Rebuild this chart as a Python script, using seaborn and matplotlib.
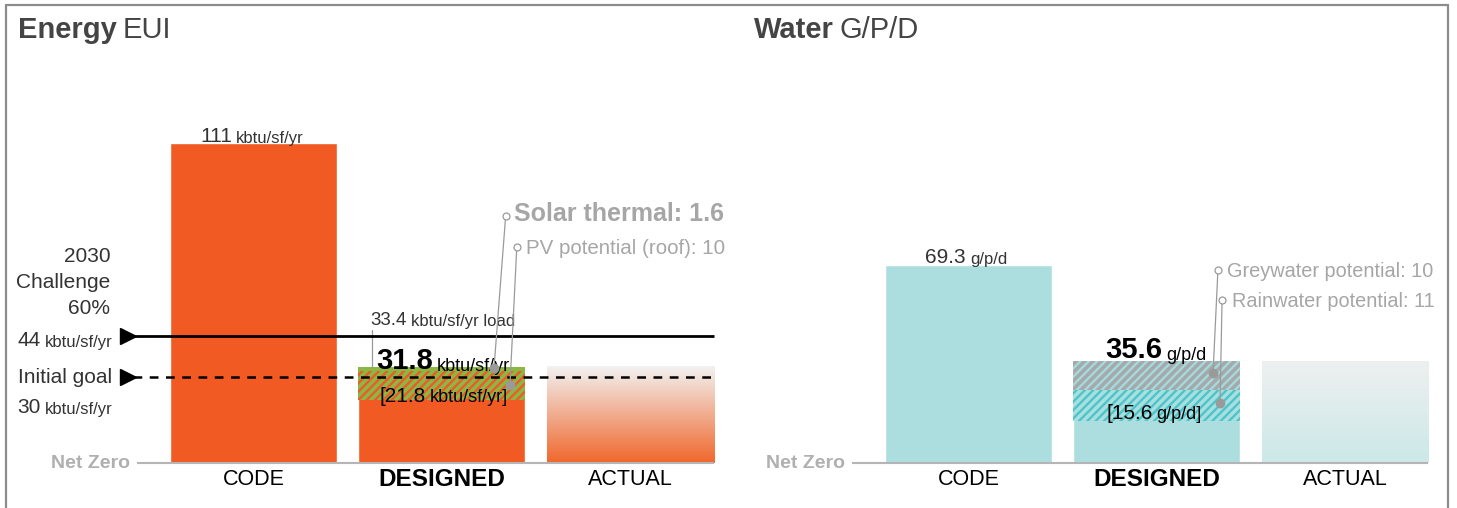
import numpy as np
import matplotlib
matplotlib.use("Agg")
import matplotlib.pyplot as plt
import seaborn as sns
from matplotlib.colors import LinearSegmentedColormap
from matplotlib.lines import Line2D

# I use a plain white style, the chart has no axes or grid
sns.set_style("white")
NARROW = ['Liberation Sans Narrow', 'Liberation Sans', 'DejaVu Sans']
WIDE = ['Liberation Sans', 'DejaVu Sans']
plt.rcParams['font.family'] = NARROW
plt.rcParams['hatch.linewidth'] = 1.7

# 1. DATA

categories = ['CODE', 'DESIGNED', 'ACTUAL']

energy_eui = [111, 33.4, 33.4]          # kbtu/sf/yr (designed = load)
energy_solar_thermal = 1.6
energy_pv = 10
energy_net = 31.8
energy_net_pv = 21.8
challenge_2030 = 44
initial_goal = 30

water_gpd = [69.3, 35.6, 35.6]          # g/p/d
water_greywater = 10
water_rainwater = 11
water_net_reuse = 15.6

# 2. COLOURS

ORANGE = '#F15A22'
GREEN = '#8BB842'
TEAL = '#ACDEDF'
GREY_TXT = '#A6A6A6'
DARK = '#333333'
LEAD = '#9A9A9A'

fig = plt.figure(figsize=(14.57, 5.08), dpi=100)
ax_e = fig.add_axes([0, 0, 720 / 1457, 1])
ax_w = fig.add_axes([728 / 1457, 0, 729 / 1457, 1])


def rich(ax, x, y, parts, zorder=6):
    # parts: (text, size, weight, color, family) drawn left to right on one line
    s, size, weight, color, fam = parts[0]
    t = ax.text(x, y, s, fontsize=size, fontweight=weight, color=color,
                family=fam, va='baseline', ha='left', zorder=zorder)
    for s, size, weight, color, fam in parts[1:]:
        t = ax.annotate(s, xy=(1, 0), xycoords=t, xytext=(3, 0),
                        textcoords='offset points', va='bottom', ha='left',
                        fontsize=size, fontweight=weight, color=color,
                        family=fam, zorder=zorder)
    return t


def gradient_bar(ax, patch, top_color, bottom_color):
    # I replace the flat bar by a vertical gradient
    x0, y0 = patch.get_x(), patch.get_y()
    w, h = patch.get_width(), patch.get_height()
    cmap = LinearSegmentedColormap.from_list('g', [bottom_color, top_color])
    grad = np.linspace(0, 1, 256).reshape(-1, 1)
    ax.imshow(grad, cmap=cmap, extent=(x0, x0 + w, y0, y0 + h),
              origin='lower', aspect='auto', zorder=2)
    patch.set_alpha(0)


def leader(ax, x_top, y_top, x_end, y_end):
    ax.plot([x_top, x_end], [y_top, y_end], color=LEAD, lw=0.9, zorder=7)
    ax.plot(x_top, y_top, marker='o', ms=5, mfc='white', mec=LEAD, mew=0.9, zorder=8)
    ax.plot(x_end, y_end, marker='o', ms=6, color=LEAD, zorder=8)


def base_panel(ax, values, palette, px_per_unit):
    sns.barplot(x=categories, y=values, hue=categories, palette=palette,
                width=0.887, legend=False, ax=ax, saturation=1, zorder=2)
    ax.set_ylim(-45 / px_per_unit, 463 / px_per_unit)
    ax.axis('off')
    ax.hlines(0, -0.619, 2.4435, color='#B5B5B5', lw=1.5, zorder=3)
    ax.text(-0.655, 0, 'Net Zero', family=WIDE, fontweight='bold', fontsize=14,
            color='#B0B0B0', ha='right', va='center')
    for i, c in enumerate(categories):
        bold = c == 'DESIGNED'
        ax.text(i, -15 / px_per_unit * 1.1, c, ha='center', va='center',
                fontsize=17.5 if bold else 15.5,
                fontweight='bold' if bold else 'normal', color='black')


# 3. ENERGY PANEL

base_panel(ax_e, energy_eui, [ORANGE, ORANGE, ORANGE], 2.883)
gradient_bar(ax_e, ax_e.patches[2], '#F2F2F2', '#F0672C')
bw = ax_e.patches[1].get_width()
ax_e.bar(1, energy_solar_thermal, bottom=energy_net, width=bw, color=GREEN, lw=0, zorder=3)
ax_e.bar(1, energy_net - energy_net_pv, bottom=energy_net_pv, width=bw, color=GREEN,
         edgecolor='#EE5A2C', hatch='////', lw=0, zorder=3)

# targets
ax_e.hlines(challenge_2030, -0.64, 2.4435, color='black', lw=2, zorder=5)
ax_e.hlines(initial_goal, -0.64, 2.4435, color='black', lw=1.8, linestyles=(0, (3.5, 3)), zorder=5)
ax_e.plot([-0.666, -0.666], [challenge_2030, initial_goal], ls='none', marker='>',
          ms=11, color='black', zorder=5)

ax_e.text(-0.76, 51.7, '2030\nChallenge\n60%', ha='right', va='baseline',
          multialignment='right', fontsize=15, color=DARK, linespacing=1.45)
rich(ax_e, -1.256, 40.6, [('44', 15, 'normal', DARK, NARROW),
                          ('kbtu/sf/yr', 12, 'normal', DARK, NARROW)])
ax_e.text(-0.751, 27.7, 'Initial goal', ha='right', va='baseline', fontsize=15, color=DARK)
rich(ax_e, -1.256, 17.2, [('30', 15, 'normal', DARK, NARROW),
                          ('kbtu/sf/yr', 12, 'normal', DARK, NARROW)])

rich(ax_e, -0.284, energy_eui[0] + 0.4, [(f'{energy_eui[0]}', 15, 'normal', DARK, NARROW),
                                         ('kbtu/sf/yr', 12, 'normal', DARK, NARROW)])
rich(ax_e, 0.619, 47.9, [(f'{energy_eui[1]}', 13.5, 'normal', DARK, NARROW),
                         ('kbtu/sf/yr load', 12, 'normal', DARK, NARROW)])
ax_e.plot([0.629, 0.629], [energy_eui[1], 46.3], color=LEAD, lw=0.9, zorder=4)
rich(ax_e, 0.650, energy_net + 0.7, [(f'{energy_net}', 21, 'bold', 'black', WIDE),
                                     ('kbtu/sf/yr', 13, 'normal', 'black', NARROW)])
rich(ax_e, 0.667, energy_net_pv - 0.6, [(f'[{energy_net_pv}', 15, 'normal', 'black', NARROW),
                                         ('kbtu/sf/yr]', 13, 'normal', 'black', NARROW)])

leader(ax_e, 1.339, 85.7, 1.277, energy_eui[1] - energy_solar_thermal / 2 + 0.3)
leader(ax_e, 1.398, 74.9, 1.362, energy_net - energy_pv / 2 + 0.4)
ax_e.text(1.383, 84.0, f'Solar thermal: {energy_solar_thermal}', family=WIDE,
          fontweight='bold', fontsize=18, color=GREY_TXT, va='baseline')
ax_e.text(1.447, 72.5, f'PV potential (roof): {energy_pv}', fontsize=14.8,
          color=GREY_TXT, va='baseline')
ax_e.set_xlim(-1.3463, 2.4772)

# 4. WATER PANEL

base_panel(ax_w, water_gpd, [TEAL, TEAL, TEAL], 2.857)
gradient_bar(ax_w, ax_w.patches[2], '#EEF0F0', '#CCE8E8')
bw = ax_w.patches[1].get_width()
grey_bottom = water_gpd[1] - water_greywater
ax_w.bar(1, water_greywater, bottom=grey_bottom, width=bw, color='#A6A9AB',
         edgecolor='#A3DADC', hatch='////', lw=0, zorder=3)
ax_w.bar(1, water_rainwater, bottom=grey_bottom - water_rainwater, width=bw, color='#A8E0E1',
         edgecolor='#4EC4C8', hatch='////', lw=0, zorder=3)

rich(ax_w, -0.231, water_gpd[0] + 0.7, [(f'{water_gpd[0]}', 15, 'normal', DARK, NARROW),
                                        ('g/p/d', 12, 'normal', DARK, NARROW)])
rich(ax_w, 0.725, water_gpd[1] + 1.0, [(f'{water_gpd[1]}', 21, 'bold', 'black', WIDE),
                                       ('g/p/d', 13, 'normal', 'black', NARROW)])
rich(ax_w, 0.731, water_net_reuse - 0.2, [(f'[{water_net_reuse}', 15, 'normal', 'black', NARROW),
                                          ('g/p/d]', 13, 'normal', 'black', NARROW)])

leader(ax_w, 1.325, 67.6, 1.299, water_gpd[1] - water_greywater / 2 + 0.9)
leader(ax_w, 1.347, 57.1, 1.336, grey_bottom - water_rainwater / 2 + 0.9)
ax_w.text(1.373, 65.1, f'Greywater potential: {water_greywater}', fontsize=14.3,
          color=GREY_TXT, va='baseline')
ax_w.text(1.399, 54.6, f'Rainwater potential: {water_rainwater}', fontsize=14.3,
          color=GREY_TXT, va='baseline')
ax_w.set_xlim(-1.2776, 2.5949)

# 5. TITLES AND FRAME

for x0, bold, rest in [(18, 'Energy', 'EUI'), (754, 'Water', 'G/P/D')]:
    t = fig.text(x0 / 1457, 1 - 38 / 508, bold, family=WIDE, fontweight='bold',
                 fontsize=21, color='#444444', va='baseline')
    plt.annotate(rest, xy=(1, 0), xycoords=t, xytext=(4, 0), textcoords='offset points',
                 va='bottom', family=WIDE, fontsize=21, color='#444444')

frame = dict(color='#8C8C8C', lw=1.6, transform=fig.transFigure)
fig.add_artist(Line2D([6 / 1457, 1448 / 1457], [1 - 5 / 508, 1 - 5 / 508], **frame))
fig.add_artist(Line2D([6 / 1457, 6 / 1457], [0, 1 - 5 / 508], **frame))
fig.add_artist(Line2D([1448 / 1457, 1448 / 1457], [0, 1 - 5 / 508], **frame))

fig.savefig('out.png', dpi=100)
